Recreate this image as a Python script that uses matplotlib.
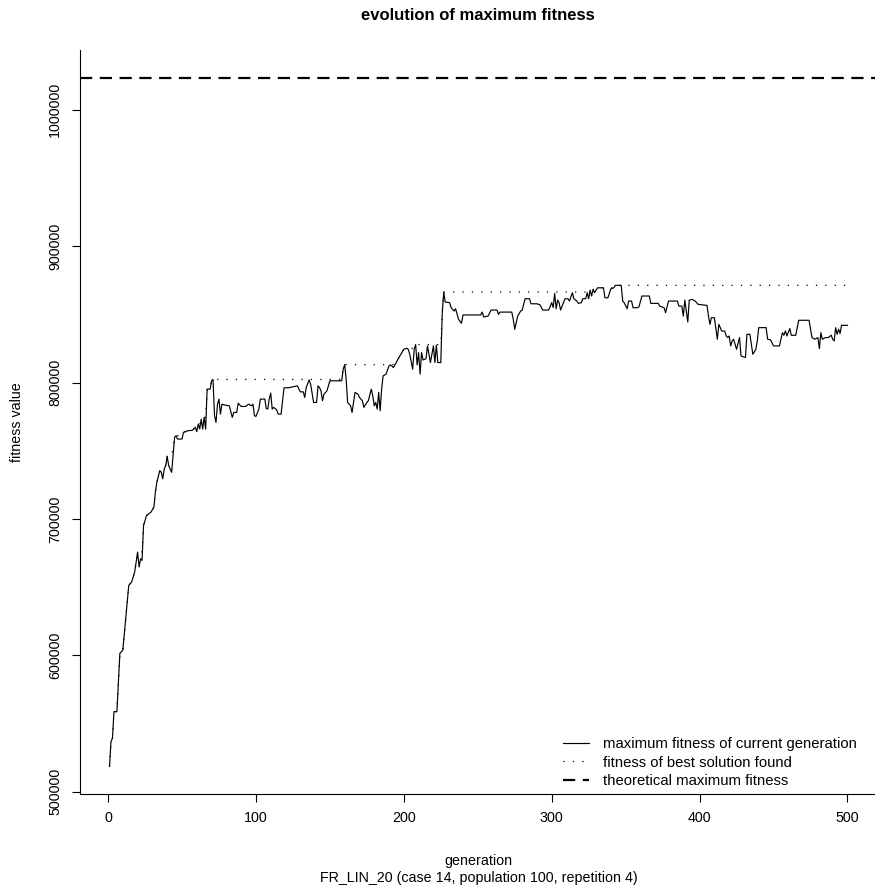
import numpy as np
import matplotlib

matplotlib.use('Agg')
import matplotlib.pyplot as plt

matplotlib.rcParams['font.family'] = ['Liberation Sans', 'DejaVu Sans']
matplotlib.rcParams['font.size'] = 10.3

# maximum fitness per generation (sampled where the curve changes)
generation = [
    1, 2, 3, 4, 6, 8, 10, 14, 16, 18, 20, 21, 22, 23, 24, 26, 29, 31, 32, 33,
    35, 36, 37, 38, 39, 40, 41, 43, 45, 46, 47, 50, 51, 54, 57, 59, 60, 61, 62, 63,
    64, 65, 66, 67, 69, 70, 71, 72, 73, 74, 75, 76, 77, 79, 82, 84, 85, 87, 88, 90,
    93, 95, 97, 98, 99, 100, 102, 103, 106, 107, 108, 109, 110, 111, 112, 114, 115, 117, 119, 122,
    126, 128, 130, 132, 133, 134, 136, 137, 138, 139, 141, 142, 143, 144, 145, 146, 148, 149, 150, 154,
    158, 159, 160, 161, 162, 164, 165, 167, 169, 170, 172, 173, 175, 176, 178, 179, 180, 181, 182, 183,
    184, 185, 186, 188, 190, 191, 193, 194, 196, 198, 200, 202, 203, 204, 206, 207, 208, 209, 210, 211,
    212, 213, 215, 216, 218, 220, 221, 222, 223, 225, 226, 227, 228, 231, 232, 234, 235, 237, 239, 240,
    252, 253, 254, 257, 259, 263, 264, 265, 273, 274, 275, 277, 279, 280, 282, 285, 286, 290, 292, 294,
    298, 300, 301, 302, 303, 304, 305, 306, 308, 309, 311, 312, 313, 314, 315, 317, 318, 320, 321, 323,
    324, 325, 326, 327, 328, 329, 331, 335, 336, 338, 340, 342, 343, 347, 348, 349, 351, 352, 354, 355,
    358, 359, 361, 366, 367, 372, 373, 376, 377, 379, 385, 386, 388, 389, 390, 392, 393, 395, 397, 399,
    405, 406, 407, 408, 410, 412, 413, 414, 415, 417, 418, 419, 420, 421, 422, 423, 424, 425, 427, 428,
    429, 431, 432, 434, 436, 437, 438, 439, 440, 445, 446, 448, 450, 454, 456, 457, 458, 459, 461, 462,
    465, 467, 474, 476, 478, 480, 481, 482, 483, 485, 487, 489, 490, 491, 492, 493, 494, 495, 496, 500,
]
max_fitness = [
    518500, 536800, 539200, 558700, 558700, 601400, 603800, 651300, 653800, 661100,
    675700, 664800, 670800, 669600, 695200, 702500, 705000, 708600, 719600, 726900,
    735500, 734200, 729400, 736700, 739100, 745900, 739100, 734200, 759800, 761100,
    758600, 758600, 763500, 764700, 765000, 767200, 764000, 769600, 766000, 773200,
    765900, 774500, 765900, 795200, 795200, 801300, 802300, 775700, 770800, 784000,
    787900, 776900, 784200, 783500, 783000, 774500, 778100, 778100, 784900, 782500,
    782500, 784200, 783000, 784200, 775700, 775200, 780600, 787900, 787900, 781000,
    780600, 787900, 792300, 780600, 781800, 780100, 776900, 776900, 796200, 796200,
    797100, 797600, 793200, 793200, 789100, 796400, 802000, 798800, 792300, 785400,
    785400, 797600, 796400, 793900, 786700, 791500, 793900, 797600, 801300, 801300,
    801300, 809800, 813200, 802500, 785400, 783000, 778100, 792800, 791500, 789100,
    786700, 781800, 785400, 786700, 795200, 790300, 783000, 785400, 780600, 792800,
    779300, 795200, 804900, 806200, 812300, 813000, 811000, 813000, 817100, 820800,
    824400, 825200, 824400, 820800, 809800, 824400, 827900, 813000, 822000, 806200,
    822000, 816600, 817500, 826900, 814700, 826900, 814700, 827500, 814700, 814700,
    851300, 866400, 859100, 858600, 855000, 852500, 854200, 846400, 843500, 849600,
    849600, 851700, 848100, 848800, 853200, 853200, 850000, 851700, 851700, 846400,
    839100, 848800, 852500, 853000, 861500, 861500, 857800, 857800, 857100, 853200,
    853200, 858600, 855100, 865400, 854200, 860500, 858600, 853200, 858600, 861500,
    861500, 859800, 862800, 865900, 861500, 859800, 858100, 858600, 861500, 861500,
    865900, 861500, 867800, 863500, 868300, 866000, 869500, 869500, 862200, 862200,
    868800, 869500, 871300, 871300, 859800, 858600, 854200, 859800, 859800, 854900,
    854900, 855600, 863500, 863500, 858100, 858100, 856100, 854900, 851300, 859800,
    859800, 856100, 856100, 848800, 860500, 844400, 860500, 861000, 859800, 857400,
    856600, 848800, 842700, 847600, 847600, 831800, 842700, 840300, 837800, 837800,
    834200, 833000, 834200, 826900, 830500, 831800, 828100, 824400, 833000, 819600,
    819100, 818400, 835400, 835400, 820800, 822500, 824400, 830500, 840300, 840300,
    831800, 831300, 826900, 826900, 836600, 834700, 837900, 834200, 839600, 834700,
    834700, 845700, 845700, 833000, 831800, 833000, 824900, 836600, 831800, 833000,
    833000, 834700, 831800, 830500, 840300, 835400, 839100, 836000, 842000, 842000,
]
theoretical_max = 1023700

gen = np.array(generation)
fit = np.array(max_fitness)
# best solution so far is the running maximum of the per-generation maxima
best = np.maximum.accumulate(fit)

fig = plt.figure(figsize=(8.75, 8.92), dpi=100)
ax = fig.add_axes([80 / 875, 98 / 892, 797 / 875, 744 / 892])

ax.plot(gen, fit, color='black', linewidth=0.85, label='maximum fitness of current generation')
ax.plot(gen, best, color='black', linewidth=0.9, linestyle=(0, (1, 6.5)),
        label='fitness of best solution found')
ax.axhline(theoretical_max, color='black', linewidth=1.6, linestyle=(0, (5.5, 3.4)),
           dash_capstyle='butt', label='theoretical maximum fitness')

xpad = 0.04 * (gen.max() - gen.min())
ax.set_xlim(gen.min() - xpad, gen.max() + xpad)
ypad = 0.04 * (theoretical_max - fit.min())
ax.set_ylim(fit.min() - ypad, theoretical_max + ypad)

ax.set_xticks([0, 100, 200, 300, 400, 500])
ax.set_yticks([500000, 600000, 700000, 800000, 900000, 1000000])
ax.set_yticklabels(['500000', '600000', '700000', '800000', '900000', '1000000'],
                   rotation=90, va='center')
ax.tick_params(direction='out', length=6, width=0.8, labelsize=10.3)
ax.tick_params(axis='x', pad=6)
ax.tick_params(axis='y', pad=7)

for side in ['top', 'right']:
    ax.spines[side].set_visible(False)
for side in ['left', 'bottom']:
    ax.spines[side].set_linewidth(0.8)

ax.set_ylabel('fitness value', labelpad=17)
ax.set_xlabel('generation\nFR_LIN_20 (case 14, population 100, repetition 4)',
              labelpad=21, linespacing=1.25)
fig.text(478 / 875, 1 - 15 / 892, 'evolution of maximum fitness', ha='center', va='center',
         fontsize=12, fontweight='bold')

ax.legend(loc='lower right', bbox_to_anchor=(0.994, -0.012), frameon=False, fontsize=10.7,
          handlelength=1.75, handletextpad=0.95, labelspacing=0.3, borderaxespad=0.6)

fig.savefig('out.png', dpi=100)
